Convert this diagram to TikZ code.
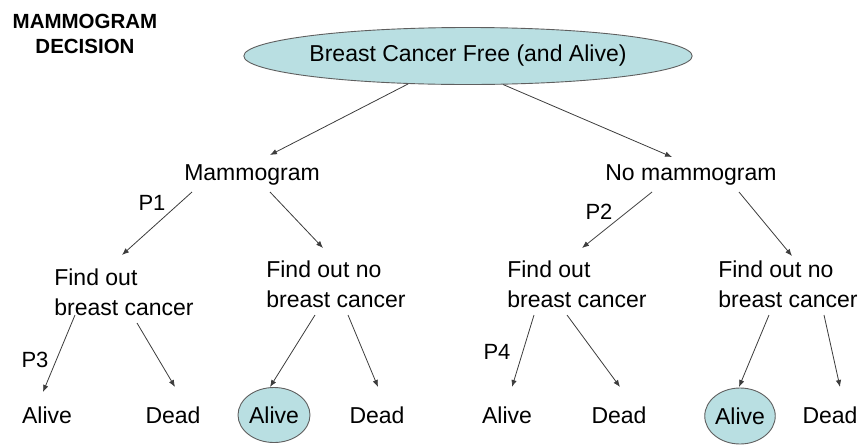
\documentclass[tikz,border=0pt]{standalone}
\usepackage{fontspec}
\setmainfont{Liberation Sans}
\usetikzlibrary{shapes.geometric,arrows.meta,calc}
\definecolor{cyanfill}{RGB}{185,223,226}
\definecolor{edgegray}{RGB}{95,95,95}
\definecolor{linegray}{RGB}{60,60,60}
\tikzset{
  txt/.style={inner sep=0pt, font=\fontsize{23}{30}\selectfont, align=left},
  bubble/.style={ellipse, draw=edgegray, line width=0.9pt, fill=cyanfill, inner sep=0pt, font=\fontsize{23}{30}\selectfont},
  conn/.style={draw=linegray, line width=0.8pt, -{Latex[length=7pt,width=5.5pt]}},
  plabel/.style={inner sep=0pt, font=\fontsize{22}{26}\selectfont}
}
\begin{document}
\begin{tikzpicture}[x=1pt,y=-1pt]
\useasboundingbox (0,0) rectangle (864,445);
\node[inner sep=0pt, align=center, font=\fontsize{20.5}{25}\bfseries\selectfont] (title) at (85,33.5) {MAMMOGRAM\\DECISION};
\node[bubble, minimum width=367pt, minimum height=57pt] (top) at (468,56) {Breast Cancer Free (and Alive)};
\node[txt] (mam) at (252,175) {Mammogram};
\node[txt] (noM) at (691,175) {No mammogram};
\node[txt] (fobc1) at (124,292) {Find out\\breast cancer};
\node[txt] (fonbc1) at (336,284) {Find out no\\breast cancer};
\node[txt] (fobc2) at (577,284) {Find out\\breast cancer};
\node[txt] (fonbc2) at (788,284) {Find out no\\breast cancer};
\node[txt] (alive1) at (47,415) {Alive};
\node[txt] (dead1) at (173,415) {Dead};
\node[bubble, minimum width=72pt, minimum height=55pt] (alive2) at (274,415) {Alive};
\node[txt] (dead2) at (377,415) {Dead};
\node[txt] (alive3) at (507,415) {Alive};
\node[txt] (dead3) at (619,415) {Dead};
\node[bubble, minimum width=67pt, minimum height=56pt] (alive4) at (740,416) {Alive};
\node[txt] (dead4) at (830,415) {Dead};
\node[plabel] (p1) at (152,203) {P1};
\node[plabel] (p2) at (599,212) {P2};
\node[plabel] (p3) at (35,360) {P3};
\node[plabel] (p4) at (497,352) {P4};
\draw[conn] (top.205) -- ($(mam.center)+(18,-20)$);
\draw[conn] (top.321) -- ($(noM.center)+(-19,-18)$);
\draw[conn] ($(mam.center)+(-60,17)$) -- ($(fobc1.center)+(-2,-37)$);
\draw[conn] ($(mam.center)+(18,17)$) -- ($(fonbc1.center)+(-13,-36)$);
\draw[conn] ($(noM.center)+(-39,17)$) -- ($(fobc2.center)+(5,-36)$);
\draw[conn] ($(noM.center)+(48,17)$) -- ($(fonbc2.center)+(4,-28)$);
\draw[conn] ($(fobc1.center)+(-49,23)$) -- ($(alive1.center)+(-4,-23)$);
\draw[conn] ($(fobc1.center)+(13,31)$) -- ($(dead1.center)+(2,-28)$);
\draw[conn] ($(fonbc1.center)+(-21,31)$) -- ($(alive2.center)+(-4,-28)$);
\draw[conn] ($(fonbc1.center)+(12,31)$) -- ($(dead2.center)+(1,-28)$);
\draw[conn] ($(fobc2.center)+(-43,31)$) -- ($(alive3.center)+(5,-28)$);
\draw[conn] ($(fobc2.center)+(-10,31)$) -- ($(dead3.center)+(1,-28)$);
\draw[conn] ($(fonbc2.center)+(-19,31)$) -- ($(alive4.center)+(-1,-29)$);
\draw[conn] ($(fonbc2.center)+(36,31)$) -- ($(dead4.center)+(10,-28)$);
\end{tikzpicture}
\end{document}
